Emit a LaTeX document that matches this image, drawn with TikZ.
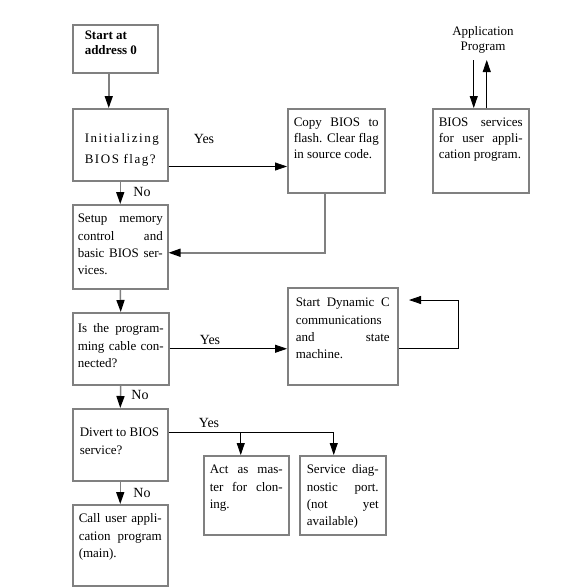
\documentclass[tikz,border=0pt]{standalone}
\usepackage{fontspec}
\setmainfont{Liberation Serif}
\usetikzlibrary{arrows.meta,calc}
\tolerance=9999
\hbadness=10000

\begin{document}
\begin{tikzpicture}[x=1pt,y=-1pt,
 box/.style n args={4}{draw=black!50,line width=1.5pt,anchor=north west,align=justify,
   inner ysep=0pt,text width=#1pt,inner xsep=#2pt,text height=#3pt,text depth=#4pt,
   font=\fontsize{13}{17.3}\selectfont},
 lab/.style={font=\fontsize{14}{16}\selectfont,inner sep=0pt},
 arr/.style={line width=0.8pt,-{Triangle[length=12pt,width=8pt]}},
 garr/.style={draw=black!50,line width=1.5pt,-{Triangle[length=12pt,width=8pt,color=black]}}]
\useasboundingbox (0,0) rectangle (576,587);
% left column
\node[box={61}{12}{15}{33},font=\fontsize{13}{15}\selectfont\bfseries] (start) at (72,24) {Start at\\address 0};
\node[box={71}{12}{34}{38},font=\fontsize{13}{21}\selectfont\addfontfeature{LetterSpace=12}] (init) at (72,108) {Initializing\\BIOS flag?};
\node[box={85}{5}{18}{66}] (setup) at (72,204) {Setup memory\linebreak control and\linebreak basic BIOS ser-\linebreak vices.};
\node[box={86}{5}{20}{52}] (prog) at (72,312) {Is the program-\linebreak ming cable con-\linebreak nected?};
\node[box={81}{7}{28}{44}] (divert) at (72,408) {Divert to BIOS\\service?};
\node[box={83}{6}{18}{63}] (main) at (72,504) {Call user appli-\linebreak cation program\linebreak (main).};
% right side
\node[box={85}{6}{18}{66},font=\fontsize{13}{16}\selectfont] (copy) at (287,108) {Copy BIOS to\linebreak flash. Clear flag\linebreak in source code.};
\node[box={84}{6}{18}{66},font=\fontsize{13}{16}\selectfont] (bios) at (432,108) {BIOS services\linebreak for user appli-\linebreak cation program.};
\node[font=\fontsize{13}{15}\selectfont,align=center,anchor=south,inner sep=0pt] (app) at (483,54) {Application\\Program};
\node[box={94}{8}{19}{78}] (dyn) at (287,287) {Start Dynamic C\linebreak communications\linebreak and state\linebreak machine.};
\node[box={73}{6}{18}{61}] (master) at (203,455) {Act as mas-\linebreak ter for clon-\linebreak ing.};
\node[box={72}{7}{18}{61}] (diag) at (299,455) {Service diag-\linebreak nostic port.\linebreak (not yet\linebreak available)};
% labels
\node[lab] (yes1) at (204,139) {Yes};
\node[lab] (no1) at (142,192) {No};
\node[lab] (yes2) at (210,340) {Yes};
\node[lab] (no2) at (140,395) {No};
\node[lab] (yes3) at (209,423) {Yes};
\node[lab] (no3) at (142,493) {No};
% connectors
\coordinate (yesrow) at ($(init.south east)+(0,-15)$);
\coordinate (divrow) at ($(divert.north east)+(0,24)$);
\coordinate (loopend) at (409,300);
\draw[garr] ($(start.south)+(-6.5,0)$) -- ($(init.north)+(-11.5,0)$);
\draw[arr] (yesrow) -- (yesrow -| copy.west);
\draw[garr] (init.south) -- (setup.north);
\draw[garr] ($(copy.south)+(-11.5,0)$) |- ($(setup.east)+(0,6)$);
\draw[garr] (setup.south) -- (prog.north);
\draw[arr] (prog.east) -- (prog.east -| dyn.west);
\draw[arr] ($(dyn.east)+(0,12.5)$) -- ++(60,0) |- (loopend);
\draw[garr] (prog.south) -- (divert.north);
\draw[arr] (divrow) -| ($(diag.north)+(-9,0)$);
\draw[arr] ($(master.north)+(-5.5,-23)$) -- ($(master.north)+(-5.5,0)$);
\draw[garr] (divert.south) -- (main.north);
\draw[arr] ($(app.south -| bios.north)+(-7,6)$) -- ($(bios.north)+(-7,0)$);
\draw[arr] ($(bios.north)+(6,0)$) -- ($(app.south -| bios.north)+(6,6)$);
\end{tikzpicture}
\end{document}
